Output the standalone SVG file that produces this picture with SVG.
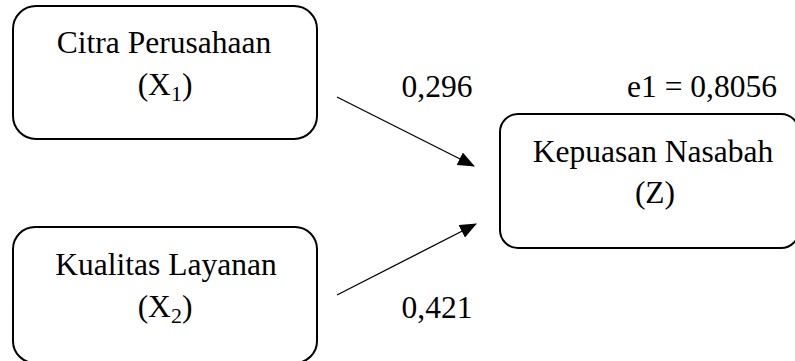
<svg xmlns="http://www.w3.org/2000/svg" width="795" height="361" viewBox="0 0 795 361">
<style>
.box{fill:#fff;stroke:#000;stroke-width:2}
.t{font-family:"Liberation Serif","Times New Roman",serif;font-size:31.5px;fill:#000;text-anchor:middle}
.sub{font-size:22px}
.con{stroke:#000;stroke-width:1.3;fill:none}
</style>
<defs>
<marker id="ah" markerWidth="17" markerHeight="14" refX="16" refY="7" orient="auto" markerUnits="userSpaceOnUse">
<path d="M0,0 L17,7 L0,14 Z" fill="#000"/>
</marker>
</defs>
<rect width="795" height="361" fill="#fff"/>
<g id="connectors">
<line class="con" x1="337" y1="97" x2="474" y2="166" marker-end="url(#ah)"/>
<line class="con" x1="337" y1="295" x2="476" y2="224" marker-end="url(#ah)"/>
<text class="t" x="437" y="97">0,296</text>
<text class="t" x="437" y="318">0,421</text>
<text class="t" x="702" y="97">e1 = 0,8056</text>
</g>
<g id="x1">
<rect class="box" x="13" y="6" width="304" height="133" rx="23"/>
<text class="t" x="164" y="53">Citra Perusahaan</text>
<text class="t" x="165" y="95">(X<tspan class="sub" dy="6">1</tspan><tspan dy="-6">)</tspan></text>
</g>
<g id="x2">
<rect class="box" x="13" y="227" width="304" height="136" rx="22"/>
<text class="t" x="166" y="275">Kualitas Layanan</text>
<text class="t" x="165" y="317">(X<tspan class="sub" dy="6">2</tspan><tspan dy="-6">)</tspan></text>
</g>
<g id="z">
<rect class="box" x="500" y="114" width="299" height="134" rx="18"/>
<text class="t" x="653" y="162">Kepuasan Nasabah</text>
<text class="t" x="655" y="203">(Z)</text>
</g>
</svg>
